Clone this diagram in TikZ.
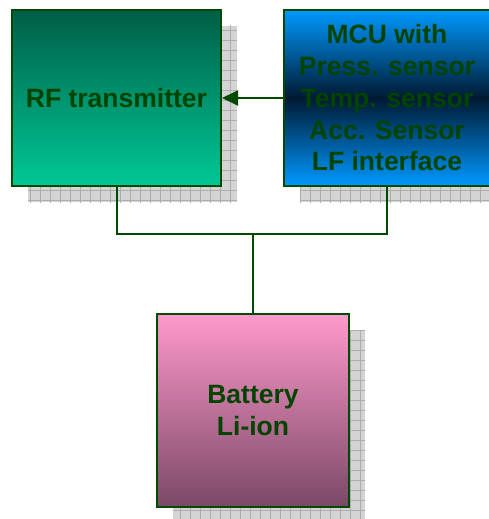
\documentclass[tikz,border=0pt]{standalone}
\usepackage{fontspec}
\setmainfont{Liberation Sans}
\usetikzlibrary{arrows.meta}
\definecolor{txtgreen}{HTML}{004400}
\definecolor{linegreen}{HTML}{004A00}
\definecolor{rftop}{HTML}{005E46}
\definecolor{rfbot}{HTML}{00C896}
\definecolor{mcuout}{HTML}{0099FF}
\definecolor{mcumid}{HTML}{001A33}
\definecolor{battop}{HTML}{FF99CC}
\definecolor{batbot}{HTML}{7A4866}
\definecolor{shadowfill}{HTML}{D4D4D4}
\definecolor{shadowline}{HTML}{ADADAD}
\tikzset{
  blockbox/.style={draw=linegreen, line width=2pt, inner sep=0pt, align=center,
    text=txtgreen, font=\bfseries\fontsize{26.5}{31.75}\selectfont},
  conn/.style={draw=linegreen, line width=2pt},
  shadowbox/.style={fill=shadowfill},
  shadowgrid/.style={draw=shadowline, line width=0.5pt}
}
\begin{document}
\begin{tikzpicture}[x=1pt,y=-1pt]
\useasboundingbox (0,0) rectangle (488,519);
% shadows
\begin{scope}
  \clip (28,26) rectangle (237,202);
  \fill[shadowbox] (28,26) rectangle (237,202);
  \draw[shadowgrid,step=10pt] (20,20) grid (240,210);
\end{scope}
\begin{scope}
  \clip (300,26) rectangle (506,202);
  \fill[shadowbox] (300,26) rectangle (506,202);
  \draw[shadowgrid,step=10pt] (300,20) grid (510,210);
\end{scope}
\begin{scope}
  \clip (173,330) rectangle (365,523);
  \fill[shadowbox] (173,330) rectangle (365,523);
  \draw[shadowgrid,step=10pt] (170,330) grid (370,530);
\end{scope}
% blocks
\node[blockbox, minimum width=209pt, minimum height=176pt,
      top color=rftop, bottom color=rfbot] (rf) at (116.5,98) {RF transmitter};
\node[blockbox, minimum width=206pt, minimum height=176pt,
      top color=mcuout, bottom color=mcuout, middle color=mcumid] (mcu) at (387,98)
      {MCU with\\Press. sensor\\Temp. sensor\\Acc. Sensor\\LF interface};
\node[blockbox, minimum width=192pt, minimum height=193pt,
      top color=battop, bottom color=batbot] (bat) at (253,410.5) {Battery\\Li-ion};
% connectors
\coordinate (j) at (253,234);
\draw[conn] (rf.south) |- (j) -| (mcu.south);
\draw[conn] (j) -- (bat.north);
\draw[conn, -{Triangle[length=16pt,width=15pt]}] (mcu.west) -- (rf.east);
\end{tikzpicture}
\end{document}
